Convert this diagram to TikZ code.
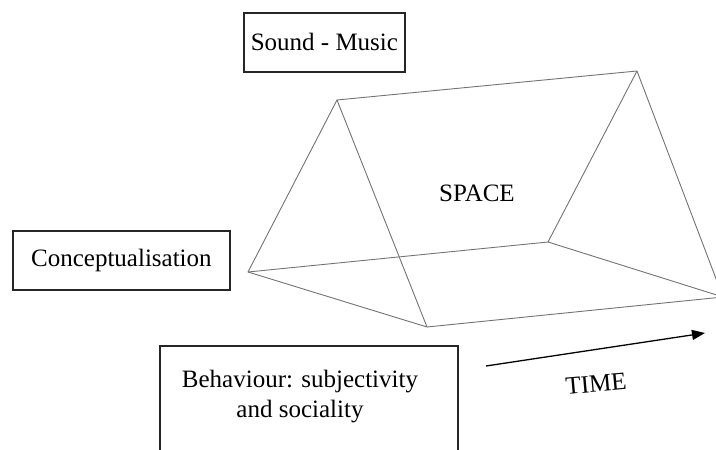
\documentclass[tikz,border=0pt]{standalone}
\usepackage{fontspec}
\setmainfont{Liberation Serif}
\usetikzlibrary{arrows.meta}
\begin{document}
\begin{tikzpicture}[x=1pt,y=-1pt,
  lbl/.style={font=\fontsize{25}{30}\selectfont, inner sep=0pt},
  frame/.style={draw=black!85, line width=1.8pt, fill=white},
  edge/.style={draw=black!55, line width=0.9pt, line join=round}]
\useasboundingbox (0,0) rectangle (716,450);
% prism vertices
\coordinate (A1) at (337,100);
\coordinate (B1) at (248,272);
\coordinate (C1) at (427,327);
\coordinate (A2) at (637,71);
\coordinate (B2) at (548,242);
\coordinate (C2) at (723,297);
\draw[edge] (A1) -- (B1) -- (C1) -- cycle;
\draw[edge] (A1) -- (A2);
\draw[edge] (B1) -- (B2);
\draw[edge] (C1) -- (C2);
\draw[edge] (A2) -- (B2) -- (C2);
\draw[edge] (A2) -- (C2);
% boxes
\node[frame, minimum width=161pt, minimum height=59pt, anchor=north west] (snd) at (243,12) {};
\node[lbl] (sndt) at (snd.center) {Sound - Music};
\node[frame, minimum width=217pt, minimum height=59pt, anchor=north west] (con) at (12,230) {};
\node[lbl] (cont) at (con.center) {Conceptualisation};
\node[frame, minimum width=298pt, minimum height=125pt, anchor=north west] (beh) at (159,345) {};
\node[lbl, align=center] (beht) at (300,397) {Behaviour: subjectivity\\and sociality};
\node[lbl] (space) at (477,193) {SPACE};
% time arrow
\coordinate (ts) at (486,366);
\coordinate (te) at (705,333);
\draw[line width=1.3pt, -{Triangle[length=13pt,width=10pt]}] (ts) -- (te);
\node[lbl, rotate=5] (time) at (596,384) {TIME};
\end{tikzpicture}
\end{document}
